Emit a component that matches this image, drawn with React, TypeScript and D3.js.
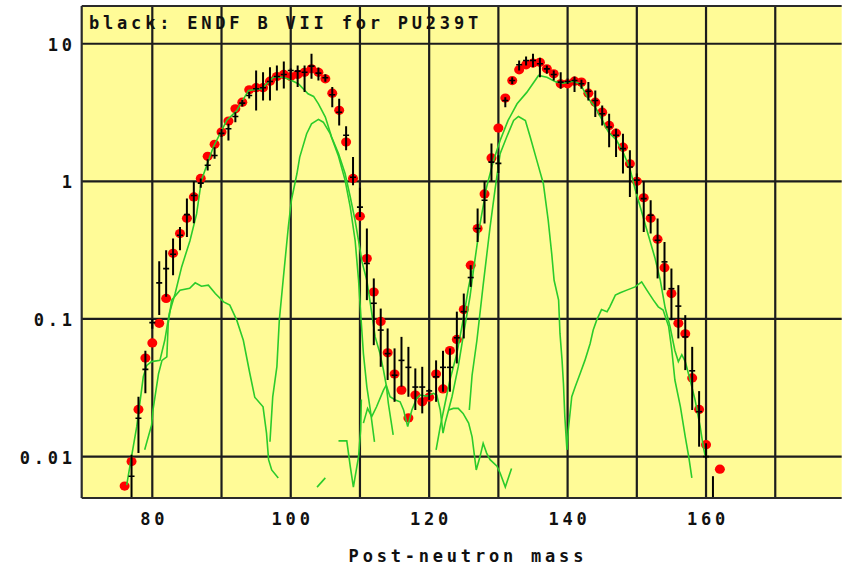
import { useEffect, useRef } from 'react';
import * as d3 from 'd3';

const title = 'black: ENDF B VII for PU239T';
const xTitle = 'Post-neutron mass';
const xGrid = [80, 90, 100, 110, 120, 130, 140, 150, 160, 170];
const xLabels = [80, 100, 120, 140, 160];
const yGrid = [0.01, 0.1, 1, 10];
const yLabels = ['0.01', '0.1', '1', '10'];

// red dots: [mass, yield]
const measured: [number, number][] = [
    [76, 0.0061], [77, 0.0092], [78, 0.022], [79, 0.052], [80, 0.067], [81, 0.093], [82, 0.141],
    [83, 0.3], [84, 0.417], [85, 0.54], [86, 0.77], [87, 1.05], [88, 1.52], [89, 1.86], [90, 2.28],
    [91, 2.74], [92, 3.37], [93, 3.76], [94, 4.63], [95, 4.79], [96, 4.79], [97, 5.34], [98, 5.78],
    [99, 5.98], [100, 5.78], [101, 5.98], [102, 6.2], [103, 6.57], [104, 6.2], [105, 5.56],
    [106, 4.37], [107, 3.28], [108, 1.93], [109, 1.05], [110, 0.557], [111, 0.275], [112, 0.157],
    [113, 0.096], [114, 0.0567], [115, 0.0398], [116, 0.0304], [117, 0.0191], [118, 0.028],
    [119, 0.025], [120, 0.027], [121, 0.0398], [122, 0.031], [123, 0.059], [124, 0.071],
    [125, 0.117], [126, 0.246], [127, 0.454], [128, 0.81], [129, 1.48], [130, 2.44], [131, 4.03],
    [132, 5.4], [133, 6.46], [134, 7.03], [135, 7.24], [136, 7.33], [137, 6.57], [138, 6.04],
    [139, 5.11], [140, 5.11], [141, 5.34], [142, 5.26], [143, 4.37], [144, 3.76], [145, 3.18],
    [146, 2.55], [147, 2.24], [148, 1.77], [149, 1.34], [150, 1.0], [151, 0.76], [152, 0.54],
    [153, 0.38], [154, 0.236], [155, 0.153], [156, 0.093], [157, 0.078], [158, 0.0373],
    [159, 0.022], [160, 0.0122], [162, 0.0081],
];

// black crosses (ENDF/B-VII): [mass, yield, low, high]
const endf: [number, number, number, number][] = [
    [77, 0.0072, 0.004, 0.0103], [78, 0.019, 0.0106, 0.0272], [79, 0.043, 0.0288, 0.0587],
    [80, 0.094, 0.085, 0.1], [81, 0.183, 0.107, 0.263], [82, 0.232, 0.145, 0.316],
    [83, 0.295, 0.208, 0.384], [84, 0.406, 0.316, 0.466], [85, 0.573, 0.394, 0.749],
    [86, 0.79, 0.496, 1.0], [87, 0.97, 0.9, 1.05], [88, 1.31, 1.2, 1.45], [89, 1.54, 1.46, 1.77],
    [90, 2.23, 2.1, 2.4], [91, 2.41, 1.98, 2.62], [92, 2.96, 2.69, 3.18], [93, 3.7, 3.5, 3.9],
    [94, 4.21, 4.0, 4.45], [95, 4.71, 3.27, 6.39], [96, 4.79, 3.87, 6.21], [97, 5.32, 3.87, 6.75],
    [98, 5.78, 4.58, 6.95], [99, 5.98, 4.73, 7.43], [100, 6.39, 5.41, 6.61], [101, 6.32, 4.84, 6.95],
    [102, 6.21, 4.45, 6.95], [103, 6.87, 5.56, 8.45], [104, 6.11, 5.41, 6.72], [105, 5.66, 5.3, 6.0],
    [106, 4.26, 3.46, 4.84], [107, 3.18, 2.55, 3.98], [108, 2.16, 1.68, 2.51], [109, 1.07, 0.935, 1.5],
    [110, 0.65, 0.55, 0.9], [111, 0.253, 0.137, 0.454], [112, 0.13, 0.0645, 0.197],
    [113, 0.083, 0.0449, 0.119], [114, 0.056, 0.036, 0.0853], [115, 0.039, 0.025, 0.0611],
    [116, 0.05, 0.0322, 0.0741], [117, 0.0445, 0.0272, 0.0627], [118, 0.032, 0.0218, 0.0437],
    [119, 0.032, 0.0206, 0.0449], [120, 0.03, 0.0258, 0.031], [121, 0.038, 0.025, 0.05],
    [122, 0.0445, 0.0296, 0.0587], [123, 0.0445, 0.0296, 0.0611], [124, 0.073, 0.0475, 0.113],
    [125, 0.113, 0.0722, 0.153], [126, 0.2, 0.171, 0.246], [127, 0.454, 0.363, 0.634],
    [128, 0.728, 0.493, 1.0], [129, 1.38, 1.0, 1.88], [130, 1.35, 1.15, 1.55], [131, 3.87, 3.46, 4.09],
    [132, 5.41, 5.1, 5.7], [133, 7.03, 6.39, 7.55], [134, 7.55, 6.95, 8.07], [135, 7.55, 6.75, 8.45],
    [136, 7.15, 5.71, 7.9], [137, 6.57, 6.05, 6.95], [138, 5.98, 5.41, 6.39], [139, 5.26, 4.71, 6.21],
    [140, 5.32, 5.1, 5.6], [141, 5.41, 4.45, 5.78], [142, 5.12, 4.71, 5.47], [143, 4.52, 3.87, 5.26],
    [144, 3.87, 2.93, 4.58], [145, 3.1, 2.55, 3.56], [146, 2.48, 1.77, 3.1], [147, 2.16, 1.5, 2.41],
    [148, 1.73, 1.14, 2.22], [149, 1.27, 0.77, 1.68], [150, 1.02, 0.814, 1.14], [151, 0.749, 0.429, 1.0],
    [152, 0.567, 0.417, 0.728], [153, 0.373, 0.197, 0.536], [154, 0.26, 0.162, 0.363],
    [155, 0.166, 0.098, 0.2325], [156, 0.124, 0.0722, 0.176], [157, 0.0741, 0.0425, 0.1066],
    [158, 0.042, 0.0218, 0.0627], [159, 0.0212, 0.0118, 0.0299], [160, 0.01, 0.0097, 0.0125],
    [161, 0.0045, 0.003, 0.0072],
];

// green model curves: [mass, yield]
const totalCurve: [number, number][] = [
    [76.3, 0.0062], [77.0, 0.01], [77.75, 0.0165], [78.7, 0.038], [79.2, 0.046], [79.9, 0.049],
    [81.1, 0.05], [81.8, 0.07], [82.46, 0.11], [83.3, 0.153], [84.25, 0.24], [85.44, 0.37],
    [86.4, 0.58], [87.1, 1.02], [88.8, 1.77], [90.75, 2.77], [92.2, 3.27], [93.9, 4.58], [95.8, 4.71],
    [97.5, 5.71], [98.9, 5.71], [99.9, 5.47], [101.1, 5.12], [102.5, 4.33], [103.3, 4.14], [104.0, 3.66],
    [105.0, 2.93], [105.9, 2.1], [106.9, 1.59], [107.85, 1.14], [108.6, 0.77], [109.3, 0.52],
    [109.8, 0.37], [110.3, 0.26], [111.0, 0.19], [111.5, 0.13], [112.2, 0.074], [112.9, 0.056],
    [113.4, 0.0425], [113.8, 0.033], [114.35, 0.0272], [115.1, 0.0258], [115.8, 0.025],
    [116.3, 0.0218], [116.9, 0.0165], [117.5, 0.0218], [118.2, 0.0265], [118.7, 0.028],
    [119.65, 0.0275], [120.6, 0.0288], [121.1, 0.028], [121.6, 0.0218], [122.0, 0.0148],
    [122.3, 0.0175], [122.8, 0.0218], [123.3, 0.0272], [123.7, 0.034], [124.2, 0.045], [124.9, 0.074],
    [125.9, 0.145], [126.4, 0.226], [127.35, 0.49], [128.3, 0.91], [129.3, 1.42], [130.25, 1.98],
    [131.4, 2.77], [132.7, 3.66], [134.1, 4.43], [135.8, 5.88], [137.0, 5.71], [138.4, 5.26],
    [139.4, 5.17], [140.8, 5.34], [141.8, 5.12], [143.0, 3.98], [144.0, 3.46], [144.9, 2.85],
    [145.9, 2.28], [147.1, 1.98], [148.1, 1.59], [149.0, 1.24], [149.75, 0.88], [150.5, 0.65],
    [151.2, 0.49], [151.9, 0.37], [152.6, 0.28], [153.4, 0.19], [154.1, 0.12], [154.8, 0.088],
    [155.5, 0.059], [156.0, 0.049], [156.5, 0.055], [157.0, 0.049], [157.7, 0.036], [158.4, 0.026],
    [159.15, 0.0165], [159.6, 0.0118], [159.9, 0.01],
];
const branchTail: [number, number][] = [[113.8, 0.033], [114.1, 0.0244], [114.8, 0.0144]];
const superlongLeft: [number, number][] = [
    [110.5, 0.0175], [111.1, 0.0224], [111.7, 0.0195], [112.4, 0.023], [113.4, 0.0304], [113.8, 0.033],
];
const superlongRight: [number, number][] = [
    [122.8, 0.0218], [123.5, 0.0224], [124.2, 0.0224], [124.9, 0.0206], [125.7, 0.0175],
    [126.2, 0.0139], [126.8, 0.008], [127.35, 0.01], [127.8, 0.0125], [128.3, 0.0106],
    [128.8, 0.0095], [129.8, 0.0085], [130.25, 0.0076], [131.0, 0.006], [131.9, 0.0082],
];
const mode3Light: [number, number][] = [
    [78.9, 0.0112], [79.9, 0.017], [80.1, 0.0218], [80.9, 0.04], [81.4, 0.05], [82.1, 0.053],
    [82.3, 0.093], [82.8, 0.137], [84.0, 0.162], [85.4, 0.167], [86.2, 0.183], [87.1, 0.173],
    [88.1, 0.176], [89.1, 0.153], [90.3, 0.133], [91.2, 0.126], [92.2, 0.098], [93.15, 0.07],
    [94.1, 0.04], [94.8, 0.027], [96.0, 0.023], [96.5, 0.0148], [96.8, 0.0095], [97.25, 0.008],
    [98.2, 0.007],
];
const mode1Light: [number, number][] = [
    [97.0, 0.0128], [97.4, 0.0272], [98.0, 0.045], [98.35, 0.098], [98.9, 0.191], [99.65, 0.466],
    [100.1, 0.73], [100.9, 1.14], [101.3, 1.5], [102.3, 2.22], [103.0, 2.62], [104.0, 2.82],
    [104.7, 2.69], [105.7, 2.22], [106.9, 1.52], [107.85, 1.02], [108.6, 0.65], [109.3, 0.373],
    [109.8, 0.191], [110.1, 0.11], [110.5, 0.056], [111.0, 0.032], [111.5, 0.0218], [112.1, 0.0128],
];
const tailLight: [number, number][] = [
    [106.9, 0.013], [108.1, 0.013], [108.6, 0.0085], [109.05, 0.006], [109.8, 0.01], [110.1, 0.0156],
    [110.2, 0.026],
];
const stubLight: [number, number][] = [[103.8, 0.006], [105.0, 0.007]];
const riseHeavy: [number, number][] = [
    [121.0, 0.0112], [121.6, 0.0165], [122.3, 0.0244], [123.0, 0.036], [124.0, 0.056], [124.9, 0.098],
    [125.7, 0.171], [126.2, 0.226],
];
const mode1Heavy: [number, number][] = [
    [125.8, 0.0218], [126.2, 0.039], [126.9, 0.07], [127.8, 0.176], [128.8, 0.466], [129.5, 0.86],
    [130.25, 1.59], [131.2, 2.1], [132.2, 2.77], [132.9, 2.96], [133.9, 2.77], [134.6, 2.1],
    [135.55, 1.42], [136.5, 0.96], [137.2, 0.52], [137.7, 0.3], [138.05, 0.191], [138.7, 0.137],
    [138.9, 0.0785], [139.2, 0.05], [139.4, 0.034], [139.6, 0.0195], [139.9, 0.0112],
];
const mode3Heavy: [number, number][] = [
    [139.9, 0.0112], [140.1, 0.0156], [140.6, 0.0272], [141.1, 0.0322], [141.8, 0.04], [142.5, 0.05],
    [143.25, 0.066], [143.7, 0.083], [144.2, 0.098], [144.9, 0.117], [145.7, 0.113], [146.1, 0.1225],
    [146.9, 0.149], [147.6, 0.155], [148.55, 0.162], [149.75, 0.171], [150.7, 0.186], [151.45, 0.162],
    [152.4, 0.137], [153.1, 0.1225], [153.8, 0.116], [154.6, 0.088], [155.06, 0.059], [155.5, 0.036],
    [156.3, 0.023], [157.0, 0.0139], [157.5, 0.01], [157.95, 0.007],
];

const greenCurves = [
    totalCurve, branchTail, superlongLeft, superlongRight, mode3Light, mode1Light,
    tailLight, stubLight, riseHeavy, mode1Heavy, mode3Heavy,
];

const width = 848;
const height = 568;
const plot = { left: 81.7, right: 841.7, top: 6, bottom: 498 };
const font = "'DejaVu Sans Mono', monospace";
const letterSpacing = 3.8;

const App = () => {
    const svgRef = useRef<SVGSVGElement>(null);

    useEffect(() => {
        const svg = d3.select(svgRef.current);
        svg.selectAll('*').remove();

        const x = d3.scaleLinear().domain([69.8, 179.6]).range([plot.left, plot.right]);
        const y = d3.scaleLog().domain([0.005, 18.8]).range([plot.bottom, plot.top]);

        svg.append('rect')
            .attr('width', width)
            .attr('height', height)
            .attr('fill', '#fff');

        svg.append('rect')
            .attr('x', plot.left)
            .attr('y', plot.top)
            .attr('width', plot.right - plot.left)
            .attr('height', plot.bottom - plot.top)
            .attr('fill', '#fffb97');

        svg.append('clipPath')
            .attr('id', 'plot-clip')
            .append('rect')
            .attr('x', plot.left)
            .attr('y', plot.top)
            .attr('width', plot.right - plot.left)
            .attr('height', plot.bottom - plot.top);

        // grid
        const grid = svg.append('g').attr('stroke', '#1c1c1c').attr('stroke-width', 2.2);
        grid.selectAll('.gx')
            .data(xGrid)
            .join('line')
            .attr('x1', d => x(d))
            .attr('x2', d => x(d))
            .attr('y1', plot.top)
            .attr('y2', plot.bottom);
        grid.selectAll('.gy')
            .data(yGrid)
            .join('line')
            .attr('x1', plot.left)
            .attr('x2', plot.right)
            .attr('y1', d => y(d))
            .attr('y2', d => y(d));

        const body = svg.append('g').attr('clip-path', 'url(#plot-clip)');

        // red dots
        body.append('g')
            .selectAll('ellipse')
            .data(measured)
            .join('ellipse')
            .attr('cx', d => x(d[0]))
            .attr('cy', d => y(d[1]))
            .attr('rx', 5)
            .attr('ry', 4.6)
            .attr('fill', '#ff0000');

        // green curves
        const line = d3
            .line<[number, number]>()
            .x(d => x(d[0]))
            .y(d => y(d[1]));
        body.append('g')
            .selectAll('path')
            .data(greenCurves)
            .join('path')
            .attr('d', d => line(d))
            .attr('fill', 'none')
            .attr('stroke', '#2bcb2b')
            .attr('stroke-width', 1.6);

        // black crosses with error bars
        const crosses = body.append('g').attr('stroke', '#000');
        crosses.selectAll('.bar')
            .data(endf)
            .join('line')
            .attr('x1', d => x(d[0]))
            .attr('x2', d => x(d[0]))
            .attr('y1', d => y(d[2]))
            .attr('y2', d => y(d[3]))
            .attr('stroke-width', 2);
        crosses.selectAll('.tick')
            .data(endf)
            .join('line')
            .attr('x1', d => x(d[0]) - 3)
            .attr('x2', d => x(d[0]) + 3)
            .attr('y1', d => y(d[1]))
            .attr('y2', d => y(d[1]))
            .attr('stroke-width', 1.6);

        // frame
        const frame = svg.append('g').attr('stroke', '#2a2a2a').attr('stroke-width', 2.2);
        frame.append('line')
            .attr('x1', plot.left).attr('x2', plot.left)
            .attr('y1', plot.top).attr('y2', plot.bottom);
        frame.append('line')
            .attr('x1', plot.left).attr('x2', plot.right)
            .attr('y1', plot.top).attr('y2', plot.top);
        frame.append('line')
            .attr('x1', plot.left).attr('x2', plot.right)
            .attr('y1', plot.bottom).attr('y2', plot.bottom);

        const text = (sel: d3.Selection<SVGTextElement, any, any, any>) =>
            sel.attr('font-family', font)
                .attr('font-weight', 'bold')
                .attr('font-size', 17)
                .attr('letter-spacing', letterSpacing)
                .attr('fill', '#111');

        svg.append('text')
            .attr('x', 89)
            .attr('y', 29)
            .text(title)
            .call(text);

        svg.append('g')
            .selectAll('text')
            .data(xLabels)
            .join('text')
            .attr('x', d => x(d) + letterSpacing / 2)
            .attr('y', 525)
            .attr('text-anchor', 'middle')
            .text(d => d)
            .call(text);

        svg.append('g')
            .selectAll('text')
            .data(yGrid)
            .join('text')
            .attr('x', 72 + letterSpacing)
            .attr('y', d => y(d) + 7)
            .attr('text-anchor', 'end')
            .text((_, i) => yLabels[i])
            .call(text);

        svg.append('text')
            .attr('x', 466 + letterSpacing / 2)
            .attr('y', 562)
            .attr('text-anchor', 'middle')
            .text(xTitle)
            .call(text);
    }, []);

    return (
        <div style={{ position: 'fixed', left: 0, top: 0 }}>
            <svg ref={svgRef} width={width} height={height}></svg>
        </div>
    );
};

export default App;
